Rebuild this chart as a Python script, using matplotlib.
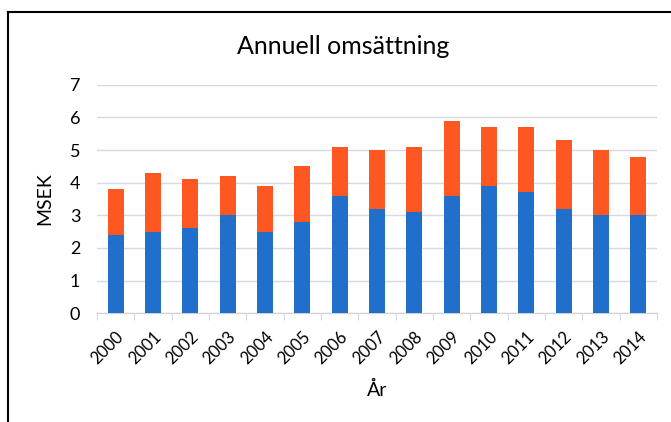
import matplotlib.pyplot as plt
from matplotlib.lines import Line2D

plt.rcParams['font.family'] = ['Lato', 'DejaVu Sans']

years = ['2000', '2001', '2002', '2003', '2004', '2005', '2006', '2007',
         '2008', '2009', '2010', '2011', '2012', '2013', '2014']
bas = [2.4, 2.5, 2.6, 3.0, 2.5, 2.8, 3.6, 3.2, 3.1, 3.6, 3.9, 3.7, 3.2, 3.0, 3.0]
totalt = [3.8, 4.3, 4.1, 4.2, 3.9, 4.5, 5.1, 5.0, 5.1, 5.9, 5.7, 5.7, 5.3, 5.0, 4.8]
ovrigt = [t - b for t, b in zip(totalt, bas)]

fig = plt.figure(figsize=(6.71, 4.22), dpi=100)
ax = fig.add_axes([0.1446, 0.258, 0.8344, 0.541])

x = range(len(years))
ax.bar(x, bas, width=0.43, color='#1f6fcb', zorder=3)
ax.bar(x, ovrigt, bottom=bas, width=0.43, color='#ff5722', zorder=3)

ax.set_xlim(-0.5, len(years) - 0.5)
ax.set_ylim(0, 7)
ax.set_yticks(range(8))
ax.grid(axis='y', color='#d8d8e2', linewidth=1, zorder=0)
for s in ['top', 'right', 'left']:
    ax.spines[s].set_visible(False)
ax.spines['bottom'].set_color('#d0d0d0')
ax.tick_params(axis='y', length=0, labelsize=13, pad=12)
ax.set_xticks(x)
ax.set_xticklabels(years, rotation=45, ha='right', rotation_mode='anchor', fontsize=12)
ax.set_xticks([i - 0.5 for i in range(len(years) + 1)], minor=True)
ax.tick_params(axis='x', which='major', length=0, pad=11)
ax.tick_params(axis='x', which='minor', length=5, color='#d0d0d0')

ax.set_ylabel('MSEK', fontsize=14, labelpad=12)
ax.set_xlabel('År', fontsize=14, labelpad=10)
fig.text(0.511, 0.889, 'Annuell omsättning', ha='center', va='center', fontsize=18)

# ram runt diagrammet
fig.add_artist(Line2D([0.012, 1.0], [0.972, 0.972], color='black', linewidth=1.5))
fig.add_artist(Line2D([0.012, 0.012], [0.0, 0.972], color='black', linewidth=1.5))

fig.savefig('out.png', dpi=100)
